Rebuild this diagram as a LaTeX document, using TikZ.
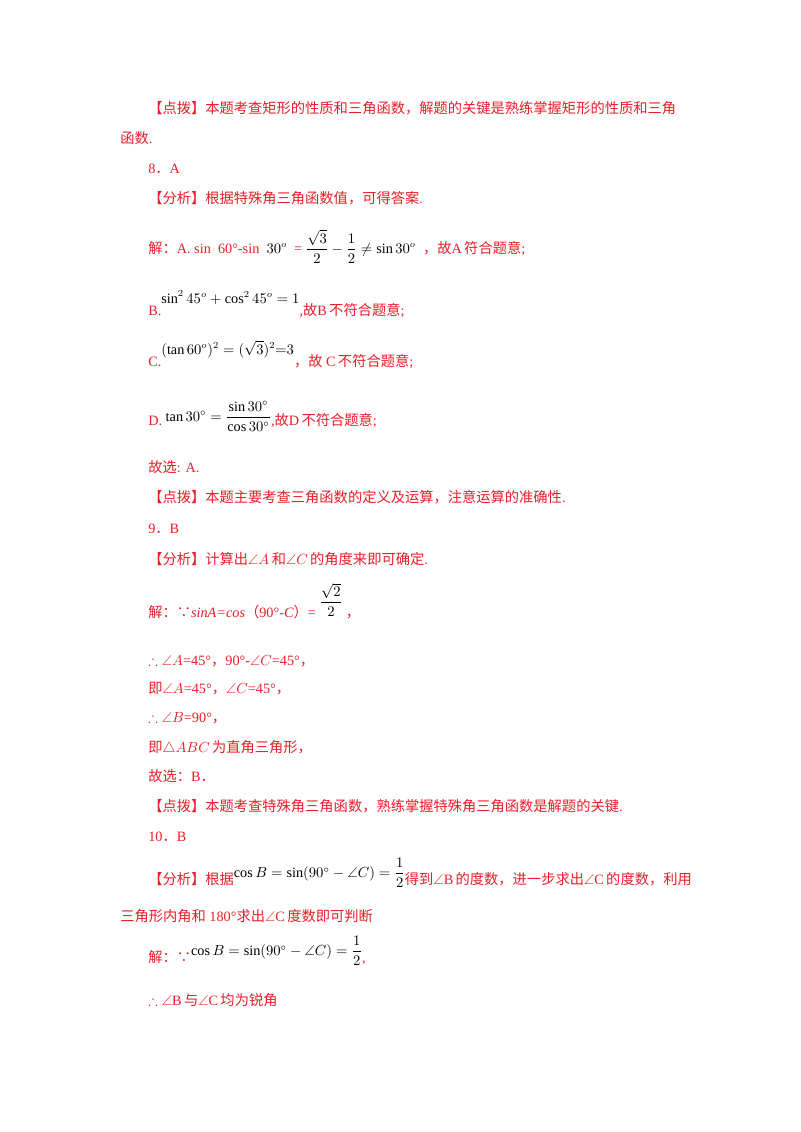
\documentclass[tikz,border=0pt]{standalone}
\usepackage{amsmath,amssymb}
\usepackage{fontspec}
\setmainfont{Liberation Serif}
\newfontfamily\cjk{Noto Sans CJK SC}
\newcommand{\C}[1]{{\cjk #1}}
\definecolor{tred}{RGB}{232,30,40}
\tikzset{t/.style={anchor=base west,inner sep=0pt,text=tred,font=\fontsize{10.7}{13}\selectfont}}
\newcommand{\K}[1]{\textcolor{black}{$#1$}}
\begin{document}
\begin{tikzpicture}[x=0.75pt,y=-0.75pt]
\useasboundingbox (0,0) rectangle (800,1132);
\node[t] (l1) at (148,113) {\C{【点拨】本题考查矩形的性质和三角函数，解题的关键是熟练掌握矩形的性质和三角}};
\node[t] (l2) at (120,143) {\C{函数}.};
\node[t] (l3) at (148,173) {8\C{．}A};
\node[t] (l4) at (148,203) {\C{【分析】根据特殊角三角函数值，可得答案}.};
\node[t] (l5) at (148,253) {\C{解：}A. sin\enspace 60°-sin\enspace \K{30^{o}}\ \ = \K{\dfrac{\sqrt3}{2}-\dfrac12\neq\sin30^{o}}\ \ \C{，故}A\,\C{符合题意}; };
\node[t] (l6) at (148,315) {B.\raisebox{9pt}{\K{\sin^2 45^{o}+\cos^2 45^{o}=1}},\C{故}B\,\C{不符合题意}; };
\node[t] (l7) at (148,366) {C.\raisebox{9pt}{\K{(\tan60^{o})^2=(\sqrt3)^2{=}3}}\C{，故} C\,\C{不符合题意}; };
\node[t] (l8) at (148,425) {D.\ \raisebox{3pt}{\K{\tan30^{\circ}=\dfrac{\sin30^{\circ}}{\cos30^{\circ}}}},\C{故}D\,\C{不符合题意}; };
\node[t] (l9) at (148,472) {\C{故选}: A.};
\node[t] (l10) at (148,502) {\C{【点拨】本题主要考查三角函数的定义及运算，注意运算的准确性}.};
\node[t] (l11) at (148,533) {9\C{．}B};
\node[t] (l12) at (148,564) {\C{【分析】计算出}$\angle A$\,\C{和}$\angle C$\,\C{的角度来即可确定}.};
\node[t] (l13) at (148,617) {\C{解：∵}\textit{sinA=cos}\C{（}90°-\textit{C}\C{）}= \raisebox{8pt}{\K{\dfrac{\sqrt2}{2}}}\ \C{，}};
\node[t] (l14) at (148,665) {$\therefore\angle A$=45°\C{，}90°-$\angle C$=45°\C{，}};
\node[t] (l15) at (148,693) {\C{即}$\angle A$=45°\C{，}$\angle C$=45°\C{，}};
\node[t] (l16) at (148,722) {$\therefore\angle B$=90°\C{，}};
\node[t] (l17) at (148,752) {\C{即}$\triangle ABC$\,\C{为直角三角形，}};
\node[t] (l18) at (148,781) {\C{故选：}B\C{．}};
\node[t] (l19) at (148,811) {\C{【点拨】本题考查特殊角三角函数，熟练掌握特殊角三角函数是解题的关键}.};
\node[t] (l20) at (148,841) {10\C{．}B};
\node[t] (l21) at (148,884) {\C{【分析】根据}\raisebox{5pt}{\K{\cos B=\sin(90^{\circ}-\angle C)=\dfrac12}}\C{得到}$\angle$B\,\C{的度数，进一步求出}$\angle$C\,\C{的度数，利用}};
\node[t] (l22) at (120,921) {\C{三角形内角和} 180°\C{求出}$\angle$C\,\C{度数即可判断}};
\node[t] (l23) at (148,962) {\C{解：∵}\raisebox{5pt}{\K{\cos B=\sin(90^{\circ}-\angle C)=\dfrac12}},};
\node[t] (l24) at (148,1005) {$\therefore\angle$B\,\C{与}$\angle$C\,\C{均为锐角}};
\end{tikzpicture}
\end{document}
